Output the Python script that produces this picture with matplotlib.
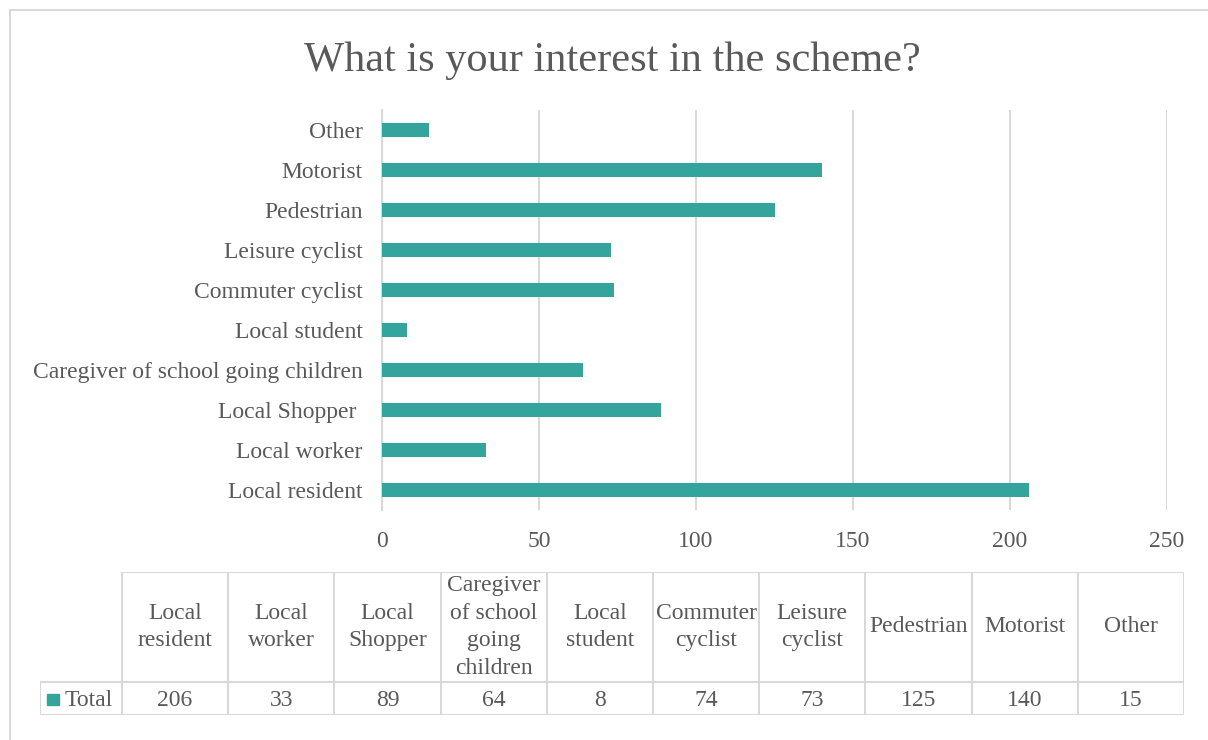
import numpy as np
import matplotlib.pyplot as plt
from matplotlib.patches import Rectangle

plt.rcParams['font.family'] = ['Liberation Serif', 'DejaVu Serif']

# Data kategori dan jumlah
categories = ['Local resident', 'Local worker', 'Local Shopper ',
              'Caregiver of school going children', 'Local student',
              'Commuter cyclist', 'Leisure cyclist', 'Pedestrian',
              'Motorist', 'Other']
header_labels = ['Local\nresident', 'Local\nworker', 'Local\nShopper',
                 'Caregiver\nof school\ngoing\nchildren', 'Local\nstudent',
                 'Commuter\ncyclist', 'Leisure\ncyclist', 'Pedestrian',
                 'Motorist', 'Other']
totals = [206, 33, 89, 64, 8, 74, 73, 125, 140, 15]
x_ticks = [0, 50, 100, 150, 200, 250]

bar_color = '#33A59D'
grid_color = '#D9D9D9'
text_color = '#595959'
fs = 17

fig = plt.figure(figsize=(12.08, 7.4), dpi=100)

# Bingkai luar grafik
fig.patches.append(Rectangle((10 / 1208, -0.1), 1.2, 1 - 10 / 740 + 0.1,
                             transform=fig.transFigure, fill=False,
                             edgecolor=grid_color, lw=1.5))

fig.text(0.507, 1 - 61 / 740, 'What is your interest in the scheme?',
         ha='center', va='center', fontsize=30.5, color=text_color)

# Grafik batang horizontal
ax = fig.add_axes([382 / 1208, 1 - 510 / 740, 785 / 1208, 400 / 740])
y = np.arange(len(categories))
ax.barh(y, totals, height=0.35, color=bar_color, zorder=3)
ax.set_xlim(0, 250)
ax.set_ylim(-0.5, len(categories) - 0.5)
ax.set_xticks(x_ticks)
ax.set_yticks(y)
ax.set_yticklabels(categories)
ax.grid(axis='x', color=grid_color, lw=1.5, zorder=0)
for s in ['top', 'right', 'bottom']:
    ax.spines[s].set_visible(False)
ax.spines['left'].set_color(grid_color)
ax.spines['left'].set_linewidth(1.5)
ax.tick_params(length=0, labelsize=fs, labelcolor=text_color)
ax.tick_params(axis='x', pad=15)
ax.tick_params(axis='y', pad=14)

# Tabel data di bawah grafik
tx = fig.add_axes([40 / 1208, 25 / 740, 1144 / 1208, 143 / 740])
lab_w = 82 / 106.2
tx.set_xlim(-lab_w, len(categories))
tx.set_ylim(0, 143)
tx.axis('off')
row_h = 33
lc = dict(color=grid_color, lw=1.5)
tx.plot([-lab_w, len(categories)], [0, 0], **lc)
tx.plot([-lab_w, len(categories)], [row_h, row_h], **lc)
tx.plot([0, len(categories)], [143, 143], **lc)
tx.plot([-lab_w, -lab_w], [0, row_h], **lc)
for i in range(len(categories) + 1):
    tx.plot([i, i], [0, 143], **lc)
for i, (h, v) in enumerate(zip(header_labels, totals)):
    tx.text(i + 0.5, (row_h + 143) / 2, h, ha='center', va='center',
            fontsize=fs, color=text_color, linespacing=1.42)
    tx.text(i + 0.5, row_h / 2 - 1.5, str(v), ha='center', va='center',
            fontsize=fs, color=text_color)
tx.add_patch(Rectangle((-lab_w + 0.065, row_h / 2 - 6), 0.11, 11,
                       color=bar_color, clip_on=False))
tx.text(-lab_w + 0.235, row_h / 2 - 1.5, 'Total', ha='left', va='center',
        fontsize=fs, color=text_color)

fig.savefig('out.png', dpi=100)
